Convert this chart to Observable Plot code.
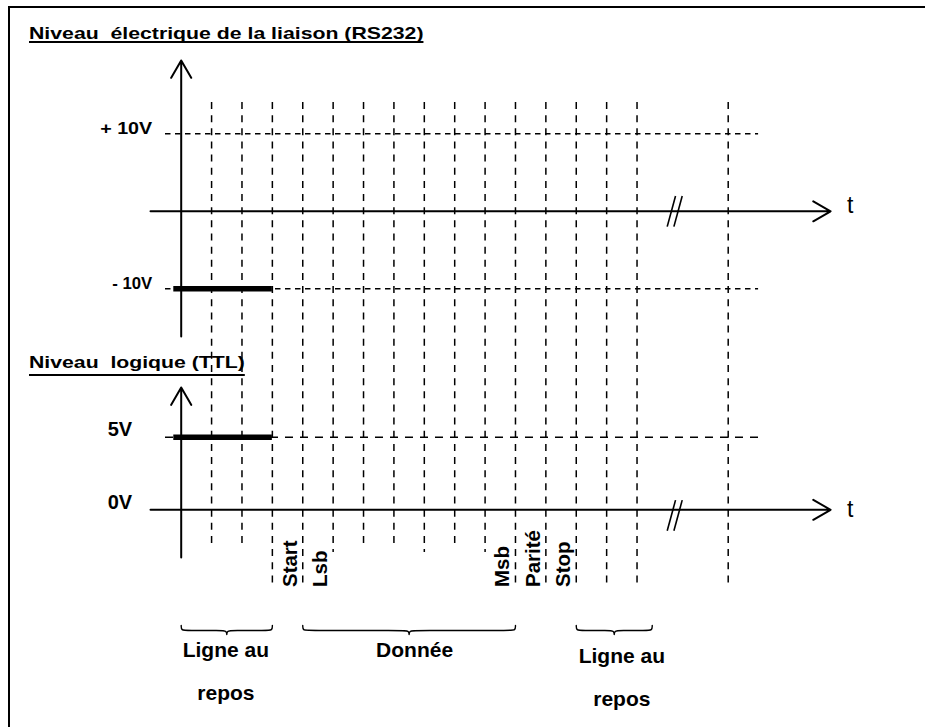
<!DOCTYPE html>
<html>
<head>
<meta charset="utf-8">
<script src="https://cdn.jsdelivr.net/npm/d3@7"></script>
<script src="https://cdn.jsdelivr.net/npm/@observablehq/plot@0.6"></script>
<style>
  html, body { margin: 0; padding: 0; background: #fff; }
  #wrap { position: relative; width: 925px; height: 727px; overflow: hidden; font-family: "Liberation Sans", Arial, Helvetica, sans-serif; }
  #wrap svg { display: block; }
  .title { position: absolute; left: 29px; font-size: 17px; font-weight: bold; line-height: 17px; white-space: pre; transform-origin: 0 0;
           text-decoration: underline; text-decoration-thickness: 2px; text-decoration-skip-ink: none; color: #000; }
  #t1 { top: 24.6px; text-underline-offset: 1.7px; }
  #t2 { top: 353.9px; text-underline-offset: 6px; }
  #frame { position: absolute; left: 8px; top: 6px; width: 940px; height: 740px; border-top: 2.5px solid #000; border-left: 2px solid #000; pointer-events: none; }
</style>
</head>
<body>
<div id="wrap">
  <div id="top"></div>
  <div id="bottom"></div>
  <div class="title" id="t1"></div>
  <div class="title" id="t2"></div>
  <div id="frame"></div>
</div>
<script>
// ---------- data (time unit = one bit duration, y in volts) ----------
const titles = ["Niveau  électrique de la liaison (RS232)", "Niveau  logique (TTL)"];
const gridSlots = [1, 2, 3, 4, 5, 6, 7, 8, 9, 10, 11, 12, 13, 14, 15, 18];
const gridShort = [1, 2, 6, 7, 9];
const gridMid = [5, 8, 10];
const gridLong = [3, 4, 11, 12, 13, 14, 15, 18];
const rs232Levels = [10, -10];
const rs232Labels = ["+ 10V", "- 10V"];
const ttlLevels = [5, 0];
const ttlLabels = ["5V", "0V"];
const rs232Idle = [{t0: 0, t1: 3, v: -10}];
const ttlIdle = [{t0: 0, t1: 3, v: 5}];
const bitNames = ["Start", "Lsb", "Msb", "Parité", "Stop"];
const bitSlots = [3, 4, 10, 11, 12];
const braceLabels = ["Ligne au\n\nrepos", "Donnée", "Ligne au\n\nrepos"];
const braceFrom = [0, 4, 13];
const braceTo = [3, 11, 15.5];
const braceLabelAt = [1.47, 7.68, 14.5];
const axisLabel = "t";
const breakAt = 16.24;
const levelSpan = [0, 19];
const tAxis = [-1.01, 21.37];
const rs232AxisV = [-16.15, 19.46];
const ttlAxisV = [-3.29, 8.42];

// ---------- layout ----------
const FONT = '"Liberation Sans", Arial, Helvetica, sans-serif';
const X = {domain: [0, 18], range: [180.7, 727.7], axis: null};
const INK = "#000";
const vDash = "7,6.15";

function breakStrokes(c, h) {
  return [-0.11, 0.11].map(o => ({x1: breakAt + o - 0.1366, y1: c - h, x2: breakAt + o + 0.1366, y2: c + h}));
}

// ---------- top panel: RS232 ----------
const topPlot = Plot.plot({
  width: 925, height: 365, margin: 0,
  style: {fontFamily: FONT, background: "white", color: INK},
  x: X,
  y: {domain: [10, -10], range: [133.3, 288.3], axis: null},
  marks: [
    Plot.ruleX(gridSlots, {x: d => d, insetTop: 102, stroke: INK, strokeWidth: 1.5, strokeDasharray: vDash}),
    Plot.ruleY(rs232Levels, {y: d => d, x1: levelSpan[0], x2: levelSpan[1], insetLeft: -15.7, stroke: INK, strokeWidth: 1.4, strokeDasharray: "5.5,4.5"}),
    Plot.ruleY(rs232Idle, {y: "v", x1: "t0", x2: "t1", insetLeft: -7.4, stroke: INK, strokeWidth: 5.5}),
    Plot.arrow([{x1: 0, y1: rs232AxisV[0], x2: 0, y2: rs232AxisV[1]}, {x1: tAxis[0], y1: 0, x2: tAxis[1], y2: 0}],
      {x1: "x1", y1: "y1", x2: "x2", y2: "y2", stroke: INK, strokeWidth: 2, headLength: 15, headAngle: 60}),
    Plot.link(breakStrokes(0, 1.974), {x1: "x1", y1: "y1", x2: "x2", y2: "y2", stroke: INK, strokeWidth: 1.6}),
    Plot.text(rs232Levels, {x: 0, y: d => d, text: (d, i) => rs232Labels[i], textAnchor: "end", lineAnchor: "bottom",
      dx: -29, dy: 0.5, fontSize: 17, fontWeight: "bold", fill: INK}),
    Plot.text([axisLabel], {x: tAxis[1], y: 0, text: d => d, textAnchor: "start", lineAnchor: "bottom", dx: 16.5, dy: 1.6,
      fontSize: 23, fill: INK})
  ]
});
d3.select(topPlot).selectAll("text").each(function () {
  if (this.textContent === rs232Labels[0]) { this.setAttribute("textLength", 52); this.setAttribute("lengthAdjust", "spacingAndGlyphs"); }
  if (this.textContent === rs232Labels[1]) { this.setAttribute("textLength", 40); this.setAttribute("lengthAdjust", "spacingAndGlyphs"); }
});
document.getElementById("top").appendChild(topPlot);

// ---------- bottom panel: TTL ----------
const bTop = -7.97, bFlat = -8.31, bTip = -8.73;
const braceRows = [];
braceFrom.forEach((a, k) => {
  const b = braceTo[k], m = (a + b) / 2, r = 0.2;
  [[a, bTop], [a, bFlat], [a + r, bFlat], [m - r, bFlat], [m, bFlat], [m, bTip], [m, bFlat], [m + r, bFlat], [b - r, bFlat], [b, bFlat], [b, bTop]]
    .forEach(([t, v]) => braceRows.push({id: k, t, v}));
});

const bottomPlot = Plot.plot({
  width: 925, height: 362, margin: 0,
  style: {fontFamily: FONT, background: "white", color: INK},
  x: X,
  y: {domain: [5, 0], range: [71.7, 144.3], axis: null},
  marks: [
    Plot.ruleX(gridShort, {x: d => d, insetBottom: 184, stroke: INK, strokeWidth: 1.5, strokeDasharray: vDash}),
    Plot.ruleX(gridMid, {x: d => d, insetBottom: 175, stroke: INK, strokeWidth: 1.5, strokeDasharray: vDash}),
    Plot.ruleX(gridLong, {x: d => d, insetBottom: 142, stroke: INK, strokeWidth: 1.5, strokeDasharray: vDash}),
    Plot.ruleY(ttlLevels.filter(v => v !== 0), {y: d => d, x1: levelSpan[0], x2: levelSpan[1], insetLeft: -15.7, stroke: INK, strokeWidth: 1.4, strokeDasharray: "8,7"}),
    Plot.ruleY(ttlIdle, {y: "v", x1: "t0", x2: "t1", insetLeft: -7.4, stroke: INK, strokeWidth: 5.5}),
    Plot.arrow([{x1: 0, y1: ttlAxisV[0], x2: 0, y2: ttlAxisV[1]}, {x1: tAxis[0], y1: 0, x2: tAxis[1], y2: 0}],
      {x1: "x1", y1: "y1", x2: "x2", y2: "y2", stroke: INK, strokeWidth: 2, headLength: 15, headAngle: 60}),
    Plot.link(breakStrokes(-0.39, 1.054), {x1: "x1", y1: "y1", x2: "x2", y2: "y2", stroke: INK, strokeWidth: 1.6}),
    Plot.text(ttlLevels, {x: 0, y: d => d, text: (d, i) => ttlLabels[i], textAnchor: "end", lineAnchor: "bottom",
      dx: -49, dy: -1.3, fontSize: 20, fontWeight: "bold", fill: INK}),
    Plot.text([axisLabel], {x: tAxis[1], y: 0, text: d => d, textAnchor: "start", lineAnchor: "bottom", dx: 16.5, dy: 7.4,
      fontSize: 23, fill: INK}),
    Plot.text(bitNames, {x: (d, i) => bitSlots[i] + 0.5, y: -5.32, text: d => d, rotate: -90, textAnchor: "start", lineAnchor: "middle",
      dx: 2.5, fontSize: 20.5, fontWeight: "bold", fill: INK}),
    Plot.line(braceRows, {x: "t", y: "v", z: "id", curve: "basis", stroke: INK, strokeWidth: 1.4}),
    Plot.text(braceLabels, {x: (d, i) => braceLabelAt[i], y: (d, i) => (i === 2 ? -9.5 : -9.09), text: d => d,
      lineAnchor: "top", lineHeight: 1.03, textAnchor: "middle", fontSize: 21, fontWeight: "bold", fill: INK})
  ]
});
document.getElementById("bottom").appendChild(bottomPlot);

// ---------- titles ----------
const t1 = document.getElementById("t1"), t2 = document.getElementById("t2");
t1.textContent = titles[0];
t2.textContent = titles[1];
[[t1, 395], [t2, 216]].forEach(([el, w]) => {
  const s = w / el.offsetWidth;
  el.style.transform = `scaleX(${s})`;
});
</script>
</body>
</html>
